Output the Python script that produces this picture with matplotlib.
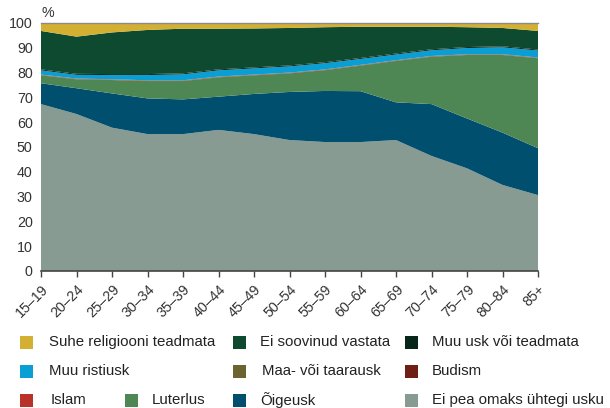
import numpy as np
import matplotlib.pyplot as plt
from matplotlib.patches import Rectangle

plt.rcParams['font.family'] = ['Liberation Sans', 'DejaVu Sans']

# age groups
ages = ['15–19', '20–24', '25–29', '30–34', '35–39', '40–44', '45–49', '50–54',
        '55–59', '60–64', '65–69', '70–74', '75–79', '80–84', '85+']

# shares, % (stacked bottom to top)
ei_pea    = [67.3, 63.3, 57.8, 55.2, 55.2, 56.9, 55.2, 52.8, 52.0, 52.0, 52.8, 46.4, 41.4, 34.7, 30.6]
oigeusk   = [8.4, 10.4, 13.8, 14.4, 14.0, 13.4, 16.2, 19.4, 20.6, 20.5, 15.2, 20.9, 20.1, 21.1, 18.9]
luterlus  = [3.2, 3.6, 5.4, 7.0, 7.4, 7.8, 7.5, 7.5, 8.4, 10.3, 16.7, 19.1, 25.6, 31.3, 36.3]
islam     = [0.1] * 15
budism    = [0.1] * 15
maausk    = [0.1] * 15
ristiusk  = [1.7, 1.5, 1.7, 2.1, 2.4, 2.5, 2.5, 2.5, 2.5, 2.4, 2.3, 2.3, 2.5, 2.8, 2.8]
muu_usk   = [0.4] * 15
ei_soovi  = [15.5, 15.0, 16.8, 17.8, 18.0, 16.4, 15.7, 15.1, 14.1, 12.6, 10.8, 9.1, 8.0, 7.4, 7.5]
suhe_tead = [3.2, 5.5, 3.8, 2.8, 2.3, 2.3, 2.2, 2.0, 1.7, 1.5, 1.5, 1.5, 1.7, 2.0, 3.2]

series = [
    ('Ei pea omaks ühtegi usku', ei_pea, '#879b93'),
    ('Õigeusk', oigeusk, '#004f6e'),
    ('Luterlus', luterlus, '#4e8754'),
    ('Islam', islam, '#b8322a'),
    ('Budism', budism, '#6e1e14'),
    ('Maa- või taarausk', maausk, '#6b6330'),
    ('Muu ristiusk', ristiusk, '#0a9fd4'),
    ('Muu usk või teadmata', muu_usk, '#06261a'),
    ('Ei soovinud vastata', ei_soovi, '#0e4a30'),
    ('Suhe religiooni teadmata', suhe_tead, '#d4b032'),
]
colors = {name: c for name, _, c in series}

W, H = 610, 408
fig = plt.figure(figsize=(W / 100, H / 100), dpi=100)
ax = fig.add_axes([41 / W, 1 - 271 / H, (538 - 41) / W, (271 - 23) / H])

x = np.arange(len(ages))
ax.stackplot(x, *[v for _, v, _ in series], colors=[c for _, _, c in series],
             linewidth=0, zorder=2)

ax.set_xlim(0, len(ages) - 1)
ax.set_ylim(0, 100)
ax.set_yticks(range(0, 101, 10))
ax.tick_params(axis='y', length=0, pad=6, labelsize=10.3, labelcolor='#333333')
ax.set_xticks(x)
ax.set_xticklabels(ages, rotation=45, ha='right', va='top', rotation_mode='anchor',
                   fontsize=10.3, color='#333333')
ax.tick_params(axis='x', length=4, width=1, color='#444444', pad=4)
for s in ['left', 'right', 'top']:
    ax.spines[s].set_visible(False)
ax.spines['bottom'].set_color('#444444')
ax.spines['bottom'].set_linewidth(1.2)
ax.axhline(100, color='#8a8a8a', lw=1, clip_on=False, zorder=3)

fig.text(42 / W, 1 - 13 / H, '%', fontsize=10.3, color='#333333', va='center', ha='left')

# legend laid out on a loose grid
legend_items = [
    ('Suhe religiooni teadmata', 20, 49, 342),
    ('Ei soovinud vastata', 233, 260, 342),
    ('Muu usk või teadmata', 405, 432, 342),
    ('Muu ristiusk', 20, 49, 371),
    ('Maa- või taarausk', 233, 262, 371),
    ('Budism', 405, 432, 371),
    ('Islam', 20, 51, 400),
    ('Luterlus', 125, 152, 400),
    ('Õigeusk', 233, 260, 400),
    ('Ei pea omaks ühtegi usku', 405, 432, 400),
]
sq = 13
for name, sx, tx, yc in legend_items:
    fig.add_artist(Rectangle((sx / W, 1 - (yc + sq / 2) / H), sq / W, sq / H,
                             transform=fig.transFigure, facecolor=colors[name],
                             edgecolor='none'))
    fig.text(tx / W, 1 - yc / H, name, fontsize=10.8, color='#222222',
             va='center', ha='left')

fig.savefig('out.png', dpi=100)
